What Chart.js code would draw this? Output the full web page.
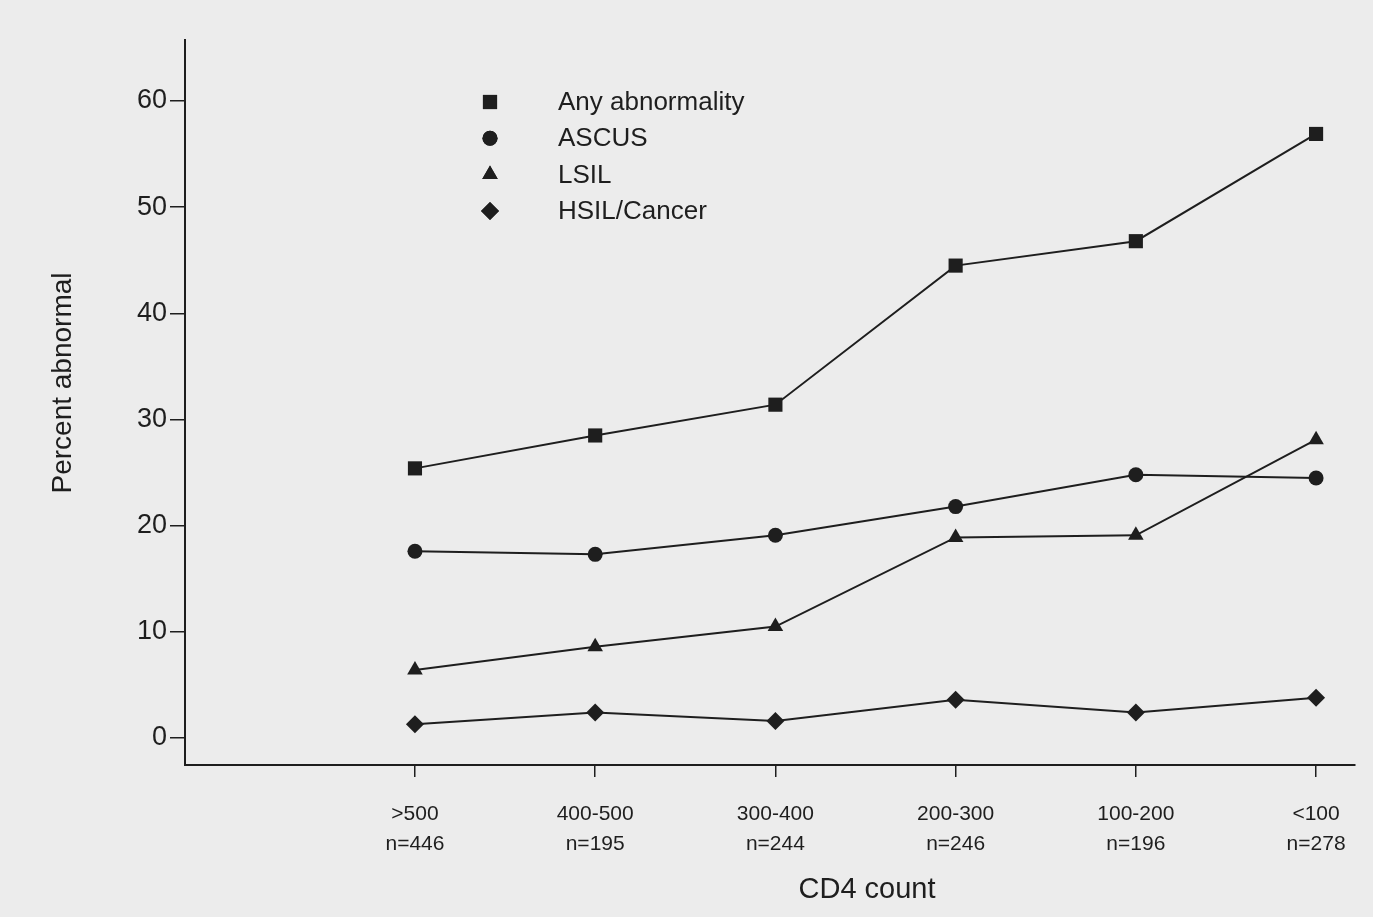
<!DOCTYPE html>
<html>
<head>
<meta charset="utf-8">
<script src="https://cdn.jsdelivr.net/npm/chart.js@4/dist/chart.umd.min.js"></script>
<style>
html,body{margin:0;padding:0;background:#ececec;}
#wrap{width:1373px;height:917px;position:relative;}
</style>
</head>
<body>
<div id="wrap"><canvas id="c" width="1373" height="917"></canvas></div>
<script>
const categories = [">500", "400-500", "300-400", "200-300", "100-200", "<100"];
const sampleSizes = ["n=446", "n=195", "n=244", "n=246", "n=196", "n=278"];
const anyAbnormality = [25.4, 28.5, 31.4, 44.5, 46.8, 56.9];
const ascus = [17.6, 17.3, 19.1, 21.8, 24.8, 24.5];
const lsil = [6.4, 8.6, 10.5, 18.9, 19.1, 28.1];
const hsilCancer = [1.3, 2.4, 1.6, 3.6, 2.4, 3.8];
const yTicks = [0, 10, 20, 30, 40, 50, 60];
const xTitle = 'CD4 count';
const yTitle = 'Percent abnormal';

const ink = '#1e1e1e';
const font = "'Liberation Sans', Arial, Helvetica, sans-serif";

function pts(arr){ return arr.map((v,i)=>({x:i,y:v})); }
function ds(label, data, style, r){
  return {label, data: pts(data), borderColor: ink, backgroundColor: ink, borderWidth: 2,
    pointStyle: style, pointRadius: r, pointHoverRadius: r, pointBorderWidth: 0, tension: 0, fill:false};
}
const datasets = [
  ds('Any abnormality', anyAbnormality, 'rect', 10),
  ds('ASCUS', ascus, 'circle', 7.5),
  ds('LSIL', lsil, 'triangle', 9),
  ds('HSIL/Cancer', hsilCancer, 'rectRot', 9)
];

const legendPlugin = {
  id: 'insideLegend',
  afterDatasetsDraw(chart){
    const ctx = chart.ctx;
    const x0 = 490, tx = 558, y0 = 102, dy = 36.3;
    chart.data.datasets.forEach((d,i)=>{
      const y = y0 + i*dy;
      ctx.save();
      ctx.fillStyle = ink; ctx.strokeStyle = ink;
      Chart.helpers.drawPoint(ctx, {pointStyle: d.pointStyle, radius: d.pointRadius, rotation: 0, borderWidth: 0}, x0, y);
      ctx.fill();
      ctx.font = "26px " + font;
      ctx.textBaseline = 'middle';
      ctx.textAlign = 'left';
      ctx.fillText(d.label, tx, y+1);
      ctx.restore();
    });
  }
};

const titlesPlugin = {
  id: 'axisTitles',
  afterDraw(chart){
    const ctx = chart.ctx;
    ctx.save();
    ctx.fillStyle = ink;
    ctx.textAlign = 'center';
    ctx.textBaseline = 'middle';
    ctx.font = "29px " + font;
    ctx.fillText(xTitle, 867, 890);
    ctx.translate(63, 383);
    ctx.rotate(-Math.PI/2);
    ctx.font = "28px " + font;
    ctx.fillText(yTitle, 0, 0);
    ctx.restore();
  }
};

new Chart(document.getElementById('c'), {
  type: 'line',
  data: { datasets },
  plugins: [legendPlugin, titlesPlugin],
  options: {
    responsive: false,
    animation: false,
    events: [],
    layout: { padding: { top: 40, right: 18, left: 0, bottom: 0 } },
    plugins: { legend: { display: false }, tooltip: { enabled: false } },
    scales: {
      x: {
        type: 'linear', min: -1.276, max: 5.216,
        afterBuildTicks(s){ s.ticks = categories.map((c,i)=>({value:i})); },
        afterFit(s){ s.height = 152; },
        ticks: {
          autoSkip: false, maxRotation: 0, color: ink, padding: 22,
          font: { family: font, size: 21, lineHeight: 1.45 },
          callback: (v)=> [categories[v], sampleSizes[v]]
        },
        grid: { display: true, drawOnChartArea: false, drawTicks: true, tickLength: 12, color: ink, lineWidth: 1.5 },
        border: { display: true, color: ink, width: 2 },
        title: { display: false }
      },
      y: {
        type: 'linear', min: -2.54, max: 65.75,
        afterBuildTicks(s){ s.ticks = yTicks.map(v=>({value:v})); },
        afterFit(s){ s.width = 185; },
        ticks: { color: ink, padding: 3, font: { family: font, size: 27 } },
        grid: { display: true, drawOnChartArea: false, drawTicks: true, tickLength: 15, color: ink, lineWidth: 1.5 },
        border: { display: true, color: ink, width: 2 },
        title: { display: false }
      }
    }
  }
});
</script>
</body>
</html>
